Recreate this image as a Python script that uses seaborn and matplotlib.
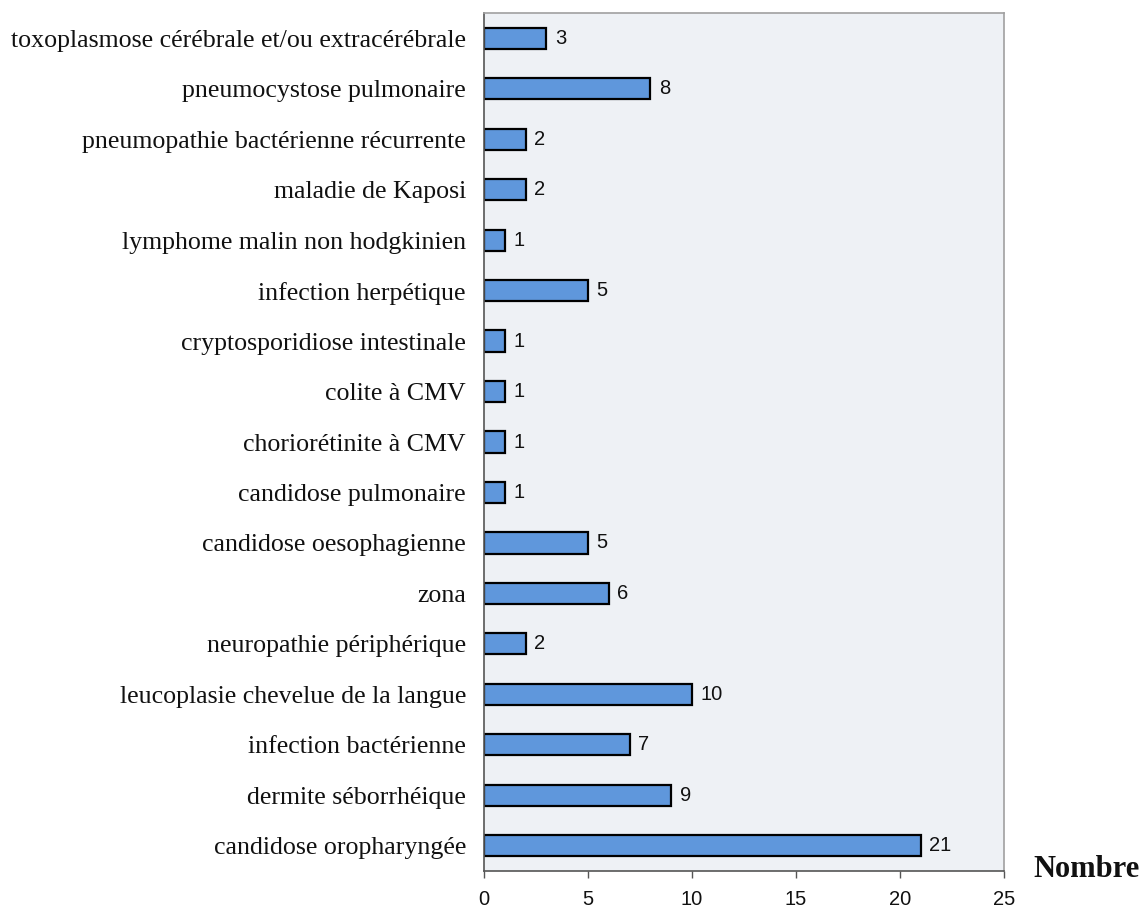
import matplotlib
matplotlib.use("Agg")
import matplotlib.pyplot as plt
import seaborn as sns
import pandas as pd

categories = [
    "toxoplasmose cérébrale et/ou extracérébrale",
    "pneumocystose pulmonaire",
    "pneumopathie bactérienne récurrente",
    "maladie de Kaposi",
    "lymphome malin non hodgkinien",
    "infection herpétique",
    "cryptosporidiose intestinale",
    "colite à CMV",
    "choriorétinite à CMV",
    "candidose pulmonaire",
    "candidose oesophagienne",
    "zona",
    "neuropathie périphérique",
    "leucoplasie chevelue de la langue",
    "infection bactérienne",
    "dermite séborrhéique",
    "candidose oropharyngée",
]
values = [3, 8, 2, 2, 1, 5, 1, 1, 1, 1, 5, 6, 2, 10, 7, 9, 21]
xticks = [0, 5, 10, 15, 20, 25]

sns.set_style("white")
df = pd.DataFrame({"cat": categories, "val": values})

fig = plt.figure(figsize=(11.45, 9.13), dpi=100)
ax = fig.add_axes([484/1145, 1 - 871/913, (1004-484)/1145, (871-13)/913])
ax.set_facecolor("#eef1f5")

sns.barplot(data=df, x="val", y="cat", orient="h", color="#5f97dc",
            edgecolor="black", linewidth=1.6, width=0.42, saturation=1, ax=ax)

for i, v in enumerate(values):
    ax.text(v + 0.4, i, str(v), va="center", ha="left",
            fontsize=14.5, family="Liberation Sans", color="#111111")

ax.set_xlim(0, 25)
ax.set_ylim(len(categories) - 0.5, -0.5)
ax.set_xticks(xticks)
ax.set_xticklabels([str(t) for t in xticks], fontsize=14.5, family="Liberation Sans")
ax.tick_params(axis="x", bottom=True, direction="out", length=5, width=1,
               color="#555555", pad=9, labelcolor="#111111")
ax.tick_params(axis="y", left=False, length=0, pad=13, labelcolor="#111111")
for lab in ax.get_yticklabels():
    lab.set_family("Liberation Serif")
    lab.set_fontsize(18.6)
ax.set_xlabel("")
ax.set_ylabel("")

for s in ["top", "right"]:
    ax.spines[s].set_color("#a0a0a0")
    ax.spines[s].set_linewidth(1.2)
for s in ["left", "bottom"]:
    ax.spines[s].set_color("#555555")
    ax.spines[s].set_linewidth(1.2)

fig.text(1140/1145, 1 - 869/913, "Nombre", fontsize=22, fontweight="bold",
         family="Liberation Serif", va="center", ha="right", color="#111111")

fig.savefig("out.png", dpi=100)
